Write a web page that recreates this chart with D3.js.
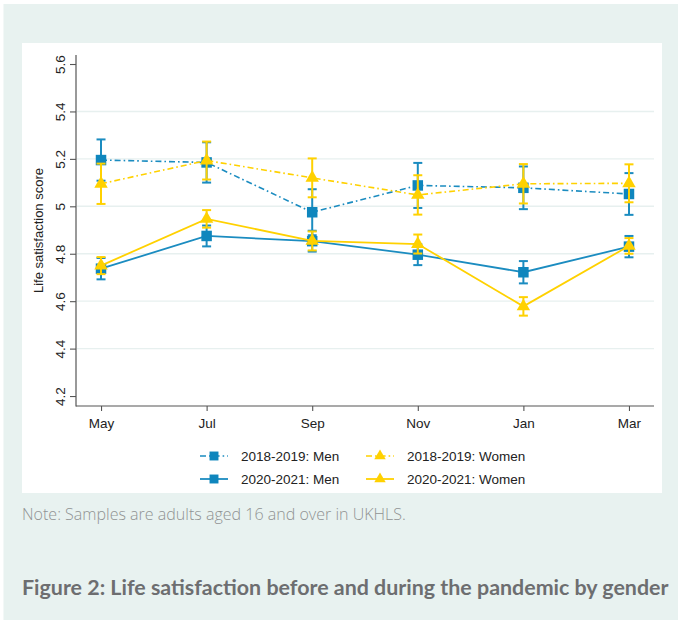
<!DOCTYPE html>
<html>
<head>
<meta charset="utf-8">
<script src="https://cdn.jsdelivr.net/npm/d3@7/dist/d3.min.js"></script>
<style>
  html, body { margin: 0; padding: 0; background: #ffffff; }
  svg { display: block; }
</style>
</head>
<body>
<svg id="chart" width="678" height="624"></svg>
<script>
// Survey months (x categories)
const months = ["May", "Jul", "Sep", "Nov", "Jan", "Mar"];

// Mean life satisfaction and 95% CI half-widths
const men1819   = [5.195, 5.185, 4.975, 5.088, 5.078, 5.052];
const men1819Ci = [0.087, 0.085, 0.097, 0.095, 0.090, 0.088];
const wom1819   = [5.095, 5.193, 5.120, 5.048, 5.095, 5.097];
const wom1819Ci = [0.085, 0.080, 0.082, 0.083, 0.083, 0.080];
const men2021   = [4.737, 4.875, 4.853, 4.796, 4.722, 4.830];
const men2021Ci = [0.045, 0.044, 0.044, 0.044, 0.047, 0.045];
const wom2021   = [4.750, 4.947, 4.854, 4.841, 4.578, 4.833];
const wom2021Ci = [0.036, 0.037, 0.040, 0.040, 0.039, 0.033];

const yTicks = [4.2, 4.4, 4.6, 4.8, 5.0, 5.2, 5.4, 5.6];
const yTickLabels = ["4.2", "4.4", "4.6", "4.8", "5", "5.2", "5.4", "5.6"];

const yTitle = "Life satisfaction score";
const note = "Note: Samples are adults aged 16 and over in UKHLS.";
const title = "Figure 2: Life satisfaction before and during the pandemic by gender";

const BLUE = "#1b8cc0";
const BLUE_MARK = "#0f86bd";
const YELLOW = "#ffd100";
const AXIS = "#555555";
const GRID = "#e7f0ef";
const PANEL = "#e8f2f0";

const series = [
  { label: "2018-2019: Men",   values: men1819, ci: men1819Ci, color: BLUE,   mark: BLUE_MARK, shape: "square",   dash: "6,3,1.6,3", width: 1.6 },
  { label: "2018-2019: Women", values: wom1819, ci: wom1819Ci, color: YELLOW, mark: YELLOW,    shape: "triangle", dash: "6,3,1.6,3", width: 1.6 },
  { label: "2020-2021: Men",   values: men2021, ci: men2021Ci, color: BLUE,   mark: BLUE_MARK, shape: "square",   dash: null,        width: 1.8 },
  { label: "2020-2021: Women", values: wom2021, ci: wom2021Ci, color: YELLOW, mark: YELLOW,    shape: "triangle", dash: null,        width: 1.8 }
];

const svg = d3.select("#chart");

// Outer panel and white chart card
svg.append("rect").attr("x", 3.5).attr("y", 4).attr("width", 674.5).attr("height", 616).attr("fill", PANEL);
svg.append("rect").attr("x", 22).attr("y", 43).attr("width", 640).attr("height", 450).attr("fill", "#ffffff");

const plot = { left: 76, right: 654, top: 55, bottom: 406 };

const x = d3.scalePoint().domain(months).range([plot.left, plot.right]).padding(0.237);
const y = d3.scaleLinear().domain([4.158, 5.638]).range([plot.bottom, plot.top]);

const fontAxis = "'Liberation Sans', Arial, sans-serif";

// Horizontal gridlines (inner ticks only)
svg.append("g").selectAll("line")
  .data(yTicks.filter(d => d > 4.2 && d < 5.6))
  .join("line")
  .attr("x1", plot.left + 1).attr("x2", plot.right)
  .attr("y1", d => y(d)).attr("y2", d => y(d))
  .attr("stroke", GRID).attr("stroke-width", 1.4);

// Y axis
const yAxis = svg.append("g")
  .attr("transform", `translate(${plot.left},0)`)
  .call(d3.axisLeft(y).tickValues(yTicks).tickSize(6).tickPadding(0)
    .tickFormat((d, i) => yTickLabels[i]));
yAxis.select(".domain").remove();
yAxis.append("line").attr("x1", 0).attr("x2", 0).attr("y1", plot.top).attr("y2", plot.bottom + 0.5)
  .attr("stroke", AXIS).attr("stroke-width", 1.2);
yAxis.selectAll(".tick line").attr("stroke", AXIS).attr("stroke-width", 1.1);
yAxis.selectAll(".tick text")
  .attr("x", 0).attr("dy", 0)
  .attr("transform", "translate(-11,0) rotate(-90)")
  .attr("text-anchor", "middle")
  .attr("fill", "#222").attr("font-size", 13.5).attr("font-family", fontAxis);

// X axis
const xAxis = svg.append("g")
  .attr("transform", `translate(0,${plot.bottom})`)
  .call(d3.axisBottom(x).tickSize(5).tickPadding(7));
xAxis.select(".domain").remove();
xAxis.append("line").attr("x1", plot.left).attr("x2", plot.right).attr("y1", 0).attr("y2", 0)
  .attr("stroke", AXIS).attr("stroke-width", 1.2);
xAxis.selectAll(".tick line").attr("stroke", AXIS).attr("stroke-width", 1.1);
xAxis.selectAll(".tick text")
  .attr("fill", "#222").attr("font-size", 13.5).attr("font-family", fontAxis);

// Y axis title
svg.append("text")
  .attr("transform", `translate(43,${(plot.top + plot.bottom) / 2}) rotate(-90)`)
  .attr("text-anchor", "middle")
  .attr("font-family", fontAxis).attr("font-size", 13).attr("fill", "#222")
  .text(yTitle);

// Marker drawing helper
function drawMarker(g, shape, cx, cy, fill, scale = 1) {
  if (shape === "square") {
    const s = 10.5 * scale;
    g.append("rect").attr("x", cx - s / 2).attr("y", cy - s / 2)
      .attr("width", s).attr("height", s).attr("fill", fill);
  } else {
    const sym = d3.symbol().type(d3.symbolTriangle).size(78 * scale * scale);
    g.append("path").attr("d", sym()).attr("transform", `translate(${cx},${cy})`).attr("fill", fill);
  }
}

const line = d3.line().x((d, i) => x(months[i])).y(d => y(d));
const capW = 4.5;

series.forEach(s => {
  const g = svg.append("g");
  // Connecting line
  g.append("path")
    .attr("d", line(s.values))
    .attr("fill", "none")
    .attr("stroke", s.color)
    .attr("stroke-width", s.width)
    .attr("stroke-dasharray", s.dash);
  // Confidence intervals
  s.values.forEach((v, i) => {
    const cx = x(months[i]);
    const lo = y(v - s.ci[i]), hi = y(v + s.ci[i]);
    g.append("line").attr("x1", cx).attr("x2", cx).attr("y1", lo).attr("y2", hi)
      .attr("stroke", s.color).attr("stroke-width", 2);
    [lo, hi].forEach(yy => g.append("line")
      .attr("x1", cx - capW).attr("x2", cx + capW).attr("y1", yy).attr("y2", yy)
      .attr("stroke", s.color).attr("stroke-width", 2));
  });
  // Markers
  s.values.forEach((v, i) => drawMarker(g, s.shape, x(months[i]), y(v), s.mark));
});

// Legend
const legendCols = [200, 366];
const legendRows = [456, 479];
series.forEach((s, k) => {
  const col = k % 2, row = Math.floor(k / 2);
  const lx = legendCols[col], ly = legendRows[row];
  const w = 28;
  const g = svg.append("g");
  g.append("line").attr("x1", lx).attr("x2", lx + w).attr("y1", ly).attr("y2", ly)
    .attr("stroke", s.color).attr("stroke-width", s.width)
    .attr("stroke-dasharray", s.dash);
  drawMarker(g, s.shape, lx + w / 2, ly, s.mark, 0.85);
  g.append("text")
    .attr("x", col === 0 ? 241 : 407).attr("y", ly)
    .attr("dy", "0.35em")
    .attr("font-family", fontAxis).attr("font-size", 13.5).attr("fill", "#222")
    .text(s.label);
});

// Size a text line so that it spans the given width
function fitWidth(sel, width) {
  const size = +sel.attr("font-size");
  const w = sel.node().getComputedTextLength();
  if (w > 0) sel.attr("font-size", (size * width / w).toFixed(2));
}

// Note and figure caption
const noteText = svg.append("text")
  .attr("x", 22).attr("y", 520)
  .attr("font-family", "'Open Sans', Lato, sans-serif").attr("font-weight", 300)
  .attr("font-size", 15).attr("fill", "#909393")
  .text(note);
fitWidth(noteText, 384);

const titleText = svg.append("text")
  .attr("x", 22).attr("y", 595)
  .attr("font-family", "Lato, 'Open Sans', sans-serif").attr("font-weight", 700)
  .attr("font-size", 20).attr("fill", "#6d6e70")
  .text(title);
fitWidth(titleText, 647);
</script>
</body>
</html>
